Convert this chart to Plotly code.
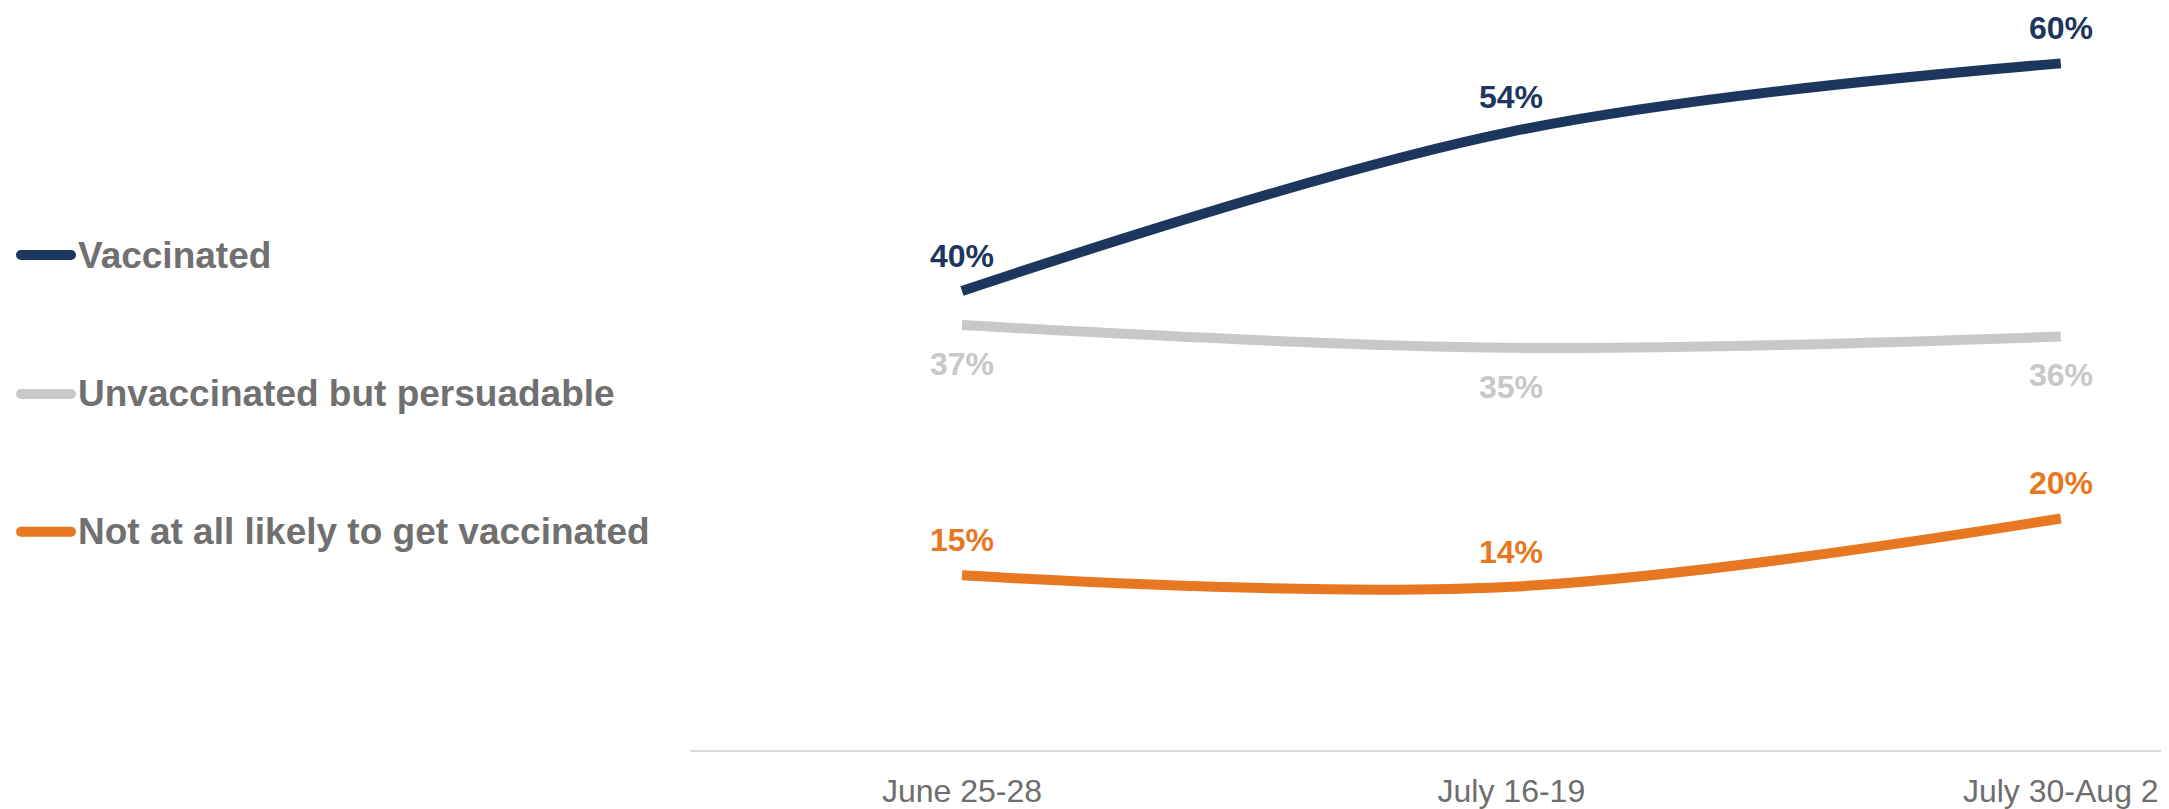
import plotly.graph_objects as go

# ---- data ----
periods = ["June 25-28", "July 16-19", "July 30-Aug 2"]
series_names = ["Vaccinated", "Unvaccinated but persuadable", "Not at all likely to get vaccinated"]
vaccinated = [40, 54, 60]
persuadable = [37, 35, 36]
not_likely = [15, 14, 20]

colors = ["#1C365E", "#C8C8C8", "#E87722"]
label_shift = [35, -39, 35]

FONT = "Liberation Sans, Arial, sans-serif"
# page body adds an 8px margin; compensate so the picture lines up
OFF = 8
W, H = 2169 - OFF, 809 - OFF
ML, MR, MT, MB = 690 - OFF, 0, 2, 53
PW = W - ML - MR
PH = H - MT - MB

fig = go.Figure()
x_idx = list(range(len(periods)))
all_series = [vaccinated, persuadable, not_likely]

for name, vals, col in zip(series_names, all_series, colors):
    fig.add_trace(go.Scatter(
        x=x_idx, y=vals, name=name, mode="lines",
        line=dict(color=col, width=10, shape="spline", smoothing=1.0),
        cliponaxis=False, showlegend=False, hoverinfo="skip",
    ))

annotations = []
for vals, col, sh in zip(all_series, colors, label_shift):
    for xi, v in zip(x_idx, vals):
        annotations.append(dict(
            x=xi, y=v, xref="x", yref="y", text=f"{v}%", showarrow=False,
            yshift=sh, xanchor="center", yanchor="middle",
            font=dict(family=FONT, size=32, color=col, weight="bold"),
        ))

# manual legend (page pixel positions converted to paper coords)
def px_x(p):
    return (p - OFF - ML) / PW

def px_y(p):
    return (PH - (p - OFF - MT)) / PH

legend_y_px = [257, 397, 536]
shapes = []
for name, col, py in zip(series_names, colors, legend_y_px):
    yp = px_y(py)
    shapes.append(dict(
        type="line", xref="paper", yref="paper",
        x0=px_x(21), x1=px_x(71), y0=yp, y1=yp,
        line=dict(color=col, width=10),
    ))
    for cx in (21, 71):
        shapes.append(dict(
            type="circle", xref="paper", yref="paper",
            x0=px_x(cx - 5), x1=px_x(cx + 5),
            y0=yp - 5 / PH, y1=yp + 5 / PH,
            fillcolor=col, line=dict(width=0),
        ))
    annotations.append(dict(
        x=px_x(76), y=yp, xref="paper", yref="paper", text=name,
        showarrow=False, xanchor="left", yanchor="middle",
        font=dict(family=FONT, size=37, color="#707070", weight="bold"),
    ))

fig.update_layout(
    width=W, height=H,
    margin=dict(l=ML, r=MR, t=MT, b=MB),
    paper_bgcolor="white", plot_bgcolor="white",
    showlegend=False,
    annotations=annotations, shapes=shapes,
    xaxis=dict(
        range=[-0.495, 2.197], tickmode="array", tickvals=x_idx, ticktext=periods,
        showgrid=False, zeroline=False, showline=True, linecolor="#D9D9D9", linewidth=2,
        ticks="outside", ticklen=12, tickcolor="rgba(0,0,0,0)",
        tickfont=dict(family=FONT, size=32, color="#6E6E6E"),
    ),
    yaxis=dict(
        range=[-0.35, 64.69], visible=False, showgrid=False, zeroline=False,
    ),
)

fig.write_html("out.html")
